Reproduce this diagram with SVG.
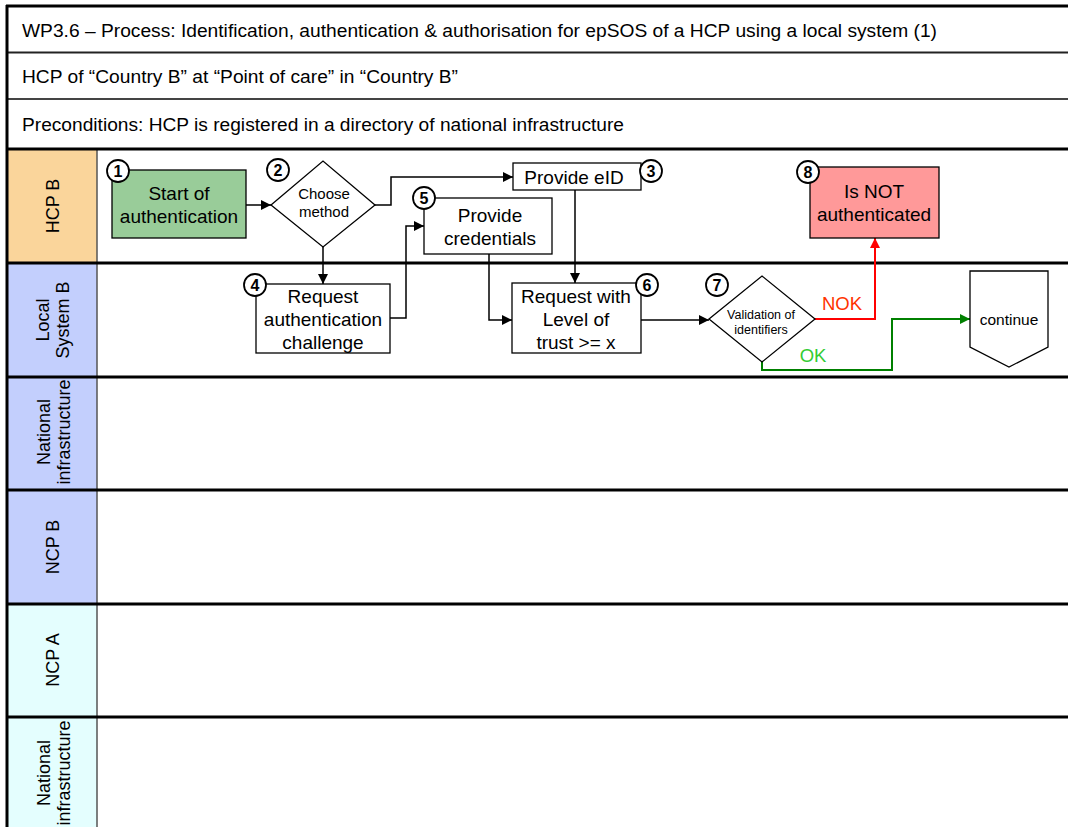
<svg xmlns="http://www.w3.org/2000/svg" width="1068" height="827" viewBox="0 0 1068 827">
  <defs>
    <marker id="arr" viewBox="0 0 10 10" refX="10" refY="5" markerWidth="10" markerHeight="10" markerUnits="userSpaceOnUse" orient="auto">
      <path d="M0,0 L10,5 L0,10 z" fill="#000"/>
    </marker>
    <marker id="arrRed" viewBox="0 0 10 10" refX="10" refY="5" markerWidth="10" markerHeight="10" markerUnits="userSpaceOnUse" orient="auto">
      <path d="M0,0 L10,5 L0,10 z" fill="#ff0000"/>
    </marker>
    <marker id="arrGreen" viewBox="0 0 10 10" refX="10" refY="5" markerWidth="10" markerHeight="10" markerUnits="userSpaceOnUse" orient="auto">
      <path d="M0,0 L10,5 L0,10 z" fill="#008000"/>
    </marker>
  </defs>
  <style>
    text { font-family: "Liberation Sans", Arial, sans-serif; fill: #000; }
    .hdr { font-size: 17.5px; }
    .lane { font-size: 18px; text-anchor: middle; }
    .box { fill: #fff; stroke: #000; stroke-width: 1.3; }
    .t19 { font-size: 19px; text-anchor: middle; }
    .t15 { font-size: 15px; text-anchor: middle; }
    .t12 { font-size: 12.5px; text-anchor: middle; }
    .num { fill: #fff; stroke: #000; stroke-width: 1.8; }
    .numt { font-size: 16px; font-weight: bold; text-anchor: middle; }
    .con { fill: none; stroke: #000; stroke-width: 1.5; marker-end: url(#arr); }
    .sep { stroke: #000; stroke-width: 3; }
  </style>

  <rect x="0" y="0" width="1068" height="827" fill="#fff"/>

  <!-- header rows -->
  <g id="header">
    <line x1="6" y1="6" x2="1068" y2="6" stroke="#000" stroke-width="3"/>
    <line x1="7" y1="52.5" x2="1068" y2="52.5" stroke="#222" stroke-width="1.8"/>
    <line x1="7" y1="99" x2="1068" y2="99" stroke="#444" stroke-width="1.8"/>
    <text class="hdr" x="22" y="37" textLength="915" lengthAdjust="spacingAndGlyphs">WP3.6 – Process: Identification, authentication &amp; authorisation for epSOS of a HCP using a local system (1)</text>
    <text class="hdr" x="22" y="83" textLength="436" lengthAdjust="spacingAndGlyphs">HCP of “Country B” at “Point of care” in “Country B”</text>
    <text class="hdr" x="22" y="131" textLength="602" lengthAdjust="spacingAndGlyphs">Preconditions: HCP is registered in a directory of national infrastructure</text>
  </g>

  <!-- swimlane label cells -->
  <g id="lanes">
    <rect x="7" y="149" width="90" height="114" fill="#fad59b"/>
    <rect x="7" y="263" width="90" height="114" fill="#c3cffd"/>
    <rect x="7" y="377" width="90" height="113" fill="#c3cffd"/>
    <rect x="7" y="490" width="90" height="114" fill="#c3cffd"/>
    <rect x="7" y="604" width="90" height="113" fill="#e4fefe"/>
    <rect x="7" y="717" width="90" height="110" fill="#e4fefe"/>
    <line x1="97" y1="149" x2="97" y2="827" stroke="#555" stroke-width="1.5"/>
    <line class="sep" x1="6" y1="149" x2="1068" y2="149"/>
    <line class="sep" x1="6" y1="263" x2="1068" y2="263"/>
    <line class="sep" x1="6" y1="377" x2="1068" y2="377"/>
    <line class="sep" x1="6" y1="490" x2="1068" y2="490"/>
    <line class="sep" x1="6" y1="604" x2="1068" y2="604"/>
    <line class="sep" x1="6" y1="717" x2="1068" y2="717"/>
    <line x1="7" y1="5" x2="7" y2="827" stroke="#000" stroke-width="3"/>
    <text class="lane" transform="translate(59,206) rotate(-90)">HCP B</text>
    <text class="lane" transform="translate(49,320) rotate(-90)">Local</text>
    <text class="lane" transform="translate(69,320) rotate(-90)">System B</text>
    <text class="lane" transform="translate(50,432) rotate(-90)">National</text>
    <text class="lane" transform="translate(70,432) rotate(-90)">infrastructure</text>
    <text class="lane" transform="translate(59,547) rotate(-90)">NCP B</text>
    <text class="lane" transform="translate(59,660) rotate(-90)">NCP A</text>
    <text class="lane" transform="translate(50,773) rotate(-90)">National</text>
    <text class="lane" transform="translate(70,773) rotate(-90)">infrastructure</text>
  </g>

  <!-- connectors -->
  <g id="connectors">
    <path class="con" d="M246,205 H271"/>
    <path class="con" d="M375,205 H391 V177 H513"/>
    <path class="con" d="M323,247 V284"/>
    <path class="con" d="M390,318 H406 V226 H424"/>
    <path class="con" d="M489,254 V320 H512"/>
    <path class="con" d="M575,190 V283"/>
    <path class="con" d="M641,320 H709"/>
    <path d="M815,319 H875 V238" fill="none" stroke="#ff0000" stroke-width="2" marker-end="url(#arrRed)"/>
    <path d="M762,362 V370 H892 V319 H970" fill="none" stroke="#008000" stroke-width="2" marker-end="url(#arrGreen)"/>
    <text x="842" y="310" font-size="18.5px" text-anchor="middle" style="fill:#ff3300">NOK</text>
    <text x="813" y="362" font-size="18.5px" text-anchor="middle" style="fill:#33cc33">OK</text>
  </g>

  <!-- 1: start -->
  <g id="n1">
    <rect x="112" y="170" width="134" height="68" fill="#99cc99" stroke="#000" stroke-width="1.3"/>
    <text class="t19" x="179" y="200">Start of</text>
    <text class="t19" x="179" y="223">authentication</text>
    <circle class="num" cx="118" cy="171" r="11"/>
    <text class="numt" x="118" y="177">1</text>
  </g>

  <!-- 2: choose method -->
  <g id="n2">
    <polygon class="box" points="271,205 323,161 375,205 323,247"/>
    <text class="t15" x="324" y="199">Choose</text>
    <text class="t15" x="324" y="217">method</text>
    <circle class="num" cx="278" cy="170" r="11"/>
    <text class="numt" x="278" y="176">2</text>
  </g>

  <!-- 3: provide eID -->
  <g id="n3">
    <rect class="box" x="513" y="163" width="128" height="27"/>
    <text class="t19" x="574" y="184">Provide eID</text>
    <circle class="num" cx="651" cy="171" r="11"/>
    <text class="numt" x="651" y="177">3</text>
  </g>

  <!-- 5: provide credentials -->
  <g id="n5">
    <rect class="box" x="424" y="198" width="128" height="56"/>
    <text class="t19" x="490" y="222">Provide</text>
    <text class="t19" x="490" y="245">credentials</text>
    <circle class="num" cx="424" cy="198" r="11"/>
    <text class="numt" x="424" y="204">5</text>
  </g>

  <!-- 4: request authentication challenge -->
  <g id="n4">
    <rect class="box" x="256" y="284" width="134" height="69"/>
    <text class="t19" x="323" y="303">Request</text>
    <text class="t19" x="323" y="326">authentication</text>
    <text class="t19" x="323" y="349">challenge</text>
    <circle class="num" cx="255" cy="285" r="11"/>
    <text class="numt" x="255" y="291">4</text>
  </g>

  <!-- 6: request with level of trust -->
  <g id="n6">
    <rect class="box" x="512" y="283" width="129" height="70"/>
    <text class="t19" x="576" y="303">Request with</text>
    <text class="t19" x="576" y="326">Level of</text>
    <text class="t19" x="576" y="349">trust &gt;= x</text>
    <circle class="num" cx="647" cy="285" r="11"/>
    <text class="numt" x="647" y="291">6</text>
  </g>

  <!-- 7: validation of identifiers -->
  <g id="n7">
    <polygon class="box" points="709,319 762,276 815,319 762,362"/>
    <text class="t12" x="761" y="319">Validation of</text>
    <text class="t12" x="761" y="334">identifiers</text>
    <circle class="num" cx="717" cy="285" r="11"/>
    <text class="numt" x="717" y="291">7</text>
  </g>

  <!-- 8: is not authenticated -->
  <g id="n8">
    <rect x="810" y="167" width="129" height="71" fill="#ff9999" stroke="#000" stroke-width="1.3"/>
    <text class="t19" x="874" y="198">Is NOT</text>
    <text class="t19" x="874" y="221">authenticated</text>
    <circle class="num" cx="808" cy="172" r="11"/>
    <text class="numt" x="808" y="178">8</text>
  </g>

  <!-- continue (off-page connector) -->
  <g id="continue">
    <polygon class="box" points="970,271 1048,271 1048,347 1009,367 970,347"/>
    <text x="1009" y="325" font-size="15.5px" text-anchor="middle">continue</text>
  </g>
</svg>
